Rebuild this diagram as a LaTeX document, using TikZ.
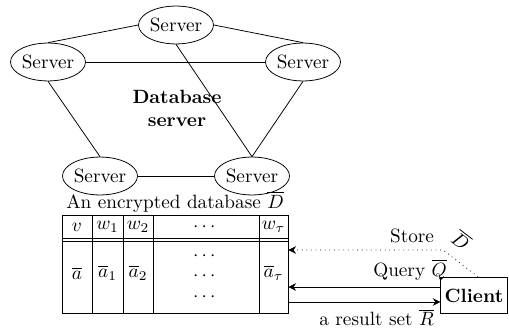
\documentclass[tikz,border=0pt]{standalone}
\usepackage{amsmath,amssymb}
\usetikzlibrary{arrows.meta,positioning,calc,shapes.geometric}

\begin{document}
\begin{tikzpicture}[x=0.52pt,y=-0.52pt,
    server/.style={draw,ellipse,inner xsep=0pt,minimum width=39pt,minimum height=16pt},
    msg/.style={-{Stealth[length=4pt,width=4pt]}}]
  \useasboundingbox (0,0) rectangle (509,329);
  % servers
  \node[server] (stop) at (176,25) {Server};
  \node[server] (sleft) at (48,62) {Server};
  \node[server] (sright) at (303,62) {Server};
  \node[server] (sbl) at (100,176) {Server};
  \node[server] (sbr) at (252,176) {Server};
  \draw (stop.west) -- (sleft.north);
  \draw (stop.east) -- (sright.north);
  \draw (sleft.east) -- (sright.west);
  \draw (stop.south) -- (sbr.north);
  \draw (sright.south) -- (sbr.north);
  \draw (sleft.south) -- (sbl.north);
  \draw (sbl.east) -- (sbr.west);
  \node[font=\bfseries,align=center] (dbs) at (177,108) {Database\\server};
  % encrypted table
  \node[draw,inner sep=0pt,minimum width=117.5pt,minimum height=51pt] (db) at (175,264) {};
  \node[above=1pt of db,inner sep=0pt] (cap) {An encrypted database $\overline{D}$};
  \draw (62,238) -- (288,238);
  \draw (62,241) -- (288,241);
  \foreach \x in {92,123,153,259}
    \draw (\x,215) -- (\x,313);
  \foreach \x/\t/\n in {77/v/v,107.5/w_1/wa,138/w_2/wb,206/\cdots/wd,273.5/w_\tau/wt}
    \node (h\n) at (\x,227) {$\t$};
  \foreach \x/\t/\n in {77/\overline{a}/v,107.5/\overline{a}_1/wa,138/\overline{a}_2/wb,273.5/\overline{a}_\tau/wt}
    \node (b\n) at (\x,273) {$\t$};
  \foreach \y/\n in {256/1,276/2,297/3}
    \node (dots\n) at (206,\y) {$\cdots$};
  % client
  \node[draw,font=\bfseries,inner xsep=2pt,minimum height=19pt] (client) at (474,295.5) {Client};
  \coordinate (bend) at (443,250);
  \coordinate (qout) at ($(client.west)+(0,-8.5)$);
  \coordinate (rin) at ($(client.west)+(0,6.5)$);
  \draw[msg,dotted] ($(client.north)+(4,0)$) -- node[sloped,above=2pt,pos=0.8] {$\overline{D}$} (bend)
    -- node[pos=0.2,above] {Store} (db.east |- bend);
  \draw[msg] (qout) -- node[pos=0.2,above] {Query $\overline{Q}$} (db.east |- qout);
  \draw[msg] (db.east |- rin) -- node[pos=0.58,below] {a result set $\overline{R}$} (rin);
\end{tikzpicture}
\end{document}
